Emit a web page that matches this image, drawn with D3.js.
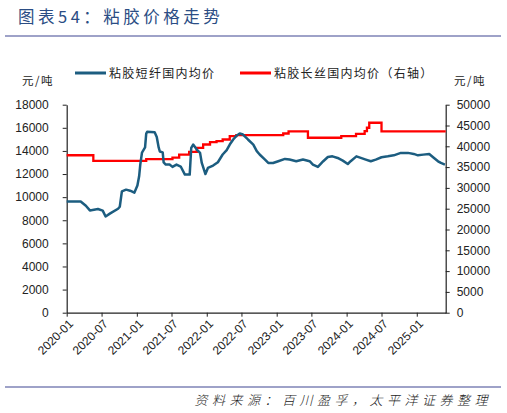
<!DOCTYPE html>
<html>
<head>
<meta charset="utf-8">
<script src="https://cdn.jsdelivr.net/npm/d3@7"></script>
<style>
  body { margin: 0; background: #fff; }
  svg { display: block; }
  .num { font-family: "Liberation Sans", Arial, sans-serif; font-size: 12px; fill: #222; }
  .cjk { font-family: "Noto Sans CJK SC", sans-serif; }
</style>
</head>
<body>
<script>
// short staple viscose, yuan/ton (left axis)
const shortDates = ["2020-01-01","2020-03-14","2020-04-10","2020-05-01","2020-06-12","2020-07-07","2020-07-22","2020-08-13","2020-09-25","2020-10-04","2020-10-15","2020-11-06","2020-11-27","2020-12-19","2021-01-04","2021-01-13","2021-01-19","2021-01-28","2021-02-13","2021-02-19","2021-02-24","2021-04-04","2021-04-15","2021-04-25","2021-05-01","2021-05-16","2021-05-21","2021-06-01","2021-06-21","2021-07-06","2021-07-27","2021-08-18","2021-09-09","2021-10-04","2021-10-12","2021-10-22","2021-11-10","2021-11-27","2021-12-06","2021-12-25","2022-01-07","2022-02-03","2022-02-28","2022-03-25","2022-04-15","2022-05-01","2022-05-19","2022-06-07","2022-06-22","2022-07-09","2022-08-04","2022-09-01","2022-09-19","2022-10-04","2022-11-01","2022-11-18","2022-12-13","2023-01-09","2023-02-13","2023-03-09","2023-04-13","2023-05-18","2023-06-22","2023-07-09","2023-08-04","2023-09-01","2023-09-25","2023-10-19","2023-11-15","2023-12-12","2024-01-07","2024-01-22","2024-02-21","2024-03-15","2024-04-10","2024-05-06","2024-06-01","2024-07-01","2024-08-03","2024-09-03","2024-10-10","2024-11-16","2024-12-16","2025-01-07","2025-02-04","2025-03-07","2025-04-01","2025-04-22","2025-05-07","2025-05-28"];
const shortValues = [9630,9630,9260,8850,8970,8830,8330,8570,9000,9170,10500,10650,10560,10390,11000,11800,12820,13860,14300,15500,15650,15620,15200,14300,13950,13870,13000,12820,12820,12620,12820,12650,11950,11950,14270,14550,14120,13830,12960,12000,12530,12730,13020,13690,14070,14550,14990,15340,15510,15420,14990,14550,13980,13690,13250,12960,12960,13110,13310,13250,13110,13250,13110,12820,12620,13110,13470,13530,13390,13160,12870,13110,13530,13400,13250,13110,13250,13450,13530,13620,13830,13830,13740,13620,13680,13740,13390,13100,12960,12820];

// filament viscose, yuan/ton (right axis), step changes
const longDates = ["2020-01-01","2020-05-19","2021-02-19","2021-07-06","2021-08-10","2021-10-01","2021-11-10","2021-12-13","2022-01-18","2022-02-21","2022-03-25","2022-05-01","2022-06-04","2023-02-04","2023-03-04","2023-06-13","2023-12-04","2024-02-19","2024-04-04","2024-04-16","2024-04-28","2024-07-01","2025-06-01"];
const longValues = [37850,36500,36900,37300,38020,38670,39640,40430,41000,41230,41640,42430,42700,43080,43600,42050,42430,43000,43640,44460,45660,43600,43600];

const leftTicks = [0,2000,4000,6000,8000,10000,12000,14000,16000,18000];
const rightTicks = [0,5000,10000,15000,20000,25000,30000,35000,40000,45000,50000];
const seriesNames = ["粘胶短纤国内均价", "粘胶长丝国内均价（右轴）"];

const W = 507, H = 413;
const plotL = 66.7, plotR = 445.7, plotT = 104.7, plotB = 312.7;
const parse = d3.timeParse("%Y-%m-%d");

const svg = d3.select("body").append("svg").attr("width", W).attr("height", H);

// title and rules
svg.append("text").attr("class", "cjk")
    .attr("x", 18).attr("y", 23)
    .attr("font-size", 16.5).attr("fill", "#2b4d84")
    .attr("letter-spacing", 3.5)
    .text("图表54：粘胶价格走势");
svg.append("line").attr("x1", 5).attr("x2", 501).attr("y1", 36).attr("y2", 36)
    .attr("stroke", "#9ea2c8").attr("stroke-width", 2);
svg.append("line").attr("x1", 5).attr("x2", 501).attr("y1", 387).attr("y2", 387)
    .attr("stroke", "#9ea2c8").attr("stroke-width", 2);
svg.append("text").attr("class", "cjk")
    .attr("x", 492).attr("y", 405).attr("text-anchor", "end")
    .attr("font-size", 13).attr("font-style", "italic").attr("fill", "#222")
    .attr("font-weight", 300).attr("letter-spacing", 4.5)
    .text("资料来源：百川盈孚，太平洋证券整理");

// scales
const x = d3.scaleTime()
    .domain([parse("2020-01-01"), parse("2025-06-01")])
    .range([plotL, plotR]);
const yL = d3.scaleLinear().domain([0, 18000]).range([plotB, plotT]);
const yR = d3.scaleLinear().domain([0, 50000]).range([plotB, plotT]);

// axes
const xAxis = d3.axisBottom(x)
    .tickValues(d3.timeMonth.every(6).range(parse("2020-01-01"), parse("2025-06-01")))
    .tickFormat(d3.timeFormat("%Y-%m"))
    .tickSize(4).tickSizeOuter(0);
const gx = svg.append("g").attr("transform", `translate(0,${plotB})`).call(xAxis);
gx.selectAll("text")
    .attr("class", "num").attr("font-size", 11)
    .attr("text-anchor", "end")
    .attr("dx", "-0.3em").attr("dy", "0.5em")
    .attr("transform", "rotate(-45)");

const gl = svg.append("g").attr("transform", `translate(${plotL},0)`)
    .call(d3.axisLeft(yL).tickValues(leftTicks).tickFormat(d3.format("d")).tickSize(4).tickSizeOuter(0).tickPadding(14));
const gr = svg.append("g").attr("transform", `translate(${plotR},0)`)
    .call(d3.axisRight(yR).tickValues(rightTicks).tickFormat(d3.format("d")).tickSize(4).tickSizeOuter(0).tickPadding(7));

[gx, gl, gr].forEach(g => {
    g.select(".domain").attr("stroke", "#222").attr("stroke-width", 1.2);
    g.selectAll(".tick line").attr("stroke", "#222");
});
[gl, gr].forEach(g => g.selectAll("text").attr("class", "num").attr("font-size", 12).attr("fill", "#222"));
gx.selectAll("text").attr("fill", "#222");

// lines
const longLine = d3.line()
    .x((d, i) => x(parse(longDates[i])))
    .y(d => yR(d))
    .curve(d3.curveStepAfter);
svg.append("path").datum(longValues)
    .attr("d", longLine)
    .attr("fill", "none").attr("stroke", "#ff0000").attr("stroke-width", 2.3);

const shortLine = d3.line()
    .x((d, i) => x(parse(shortDates[i])))
    .y(d => yL(d));
svg.append("path").datum(shortValues)
    .attr("d", shortLine)
    .attr("fill", "none").attr("stroke", "#1c5d80").attr("stroke-width", 2.5)
    .attr("stroke-linejoin", "round");

// units
svg.append("text").attr("class", "cjk").attr("x", 22).attr("y", 85)
    .attr("font-size", 11.5).attr("fill", "#222").attr("letter-spacing", 1.5).text("元/吨");
svg.append("text").attr("class", "cjk").attr("x", 454).attr("y", 85)
    .attr("font-size", 11.5).attr("fill", "#222").attr("letter-spacing", 1.5).text("元/吨");

// legend
const legendColors = ["#1c5d80", "#ff0000"];
const legendX = [75, 240];
const lg = svg.append("g").selectAll("g").data(seriesNames).enter().append("g")
    .attr("transform", (d, i) => `translate(${legendX[i]},73)`);
lg.append("line").attr("x1", 0).attr("x2", 31).attr("y1", 0).attr("y2", 0)
    .attr("stroke", (d, i) => legendColors[i]).attr("stroke-width", 3);
lg.append("text").attr("class", "cjk").attr("x", 34).attr("y", 4.5)
    .attr("font-size", 12).attr("fill", "#222").attr("letter-spacing", 1.3)
    .text(d => d);
</script>
</body>
</html>
